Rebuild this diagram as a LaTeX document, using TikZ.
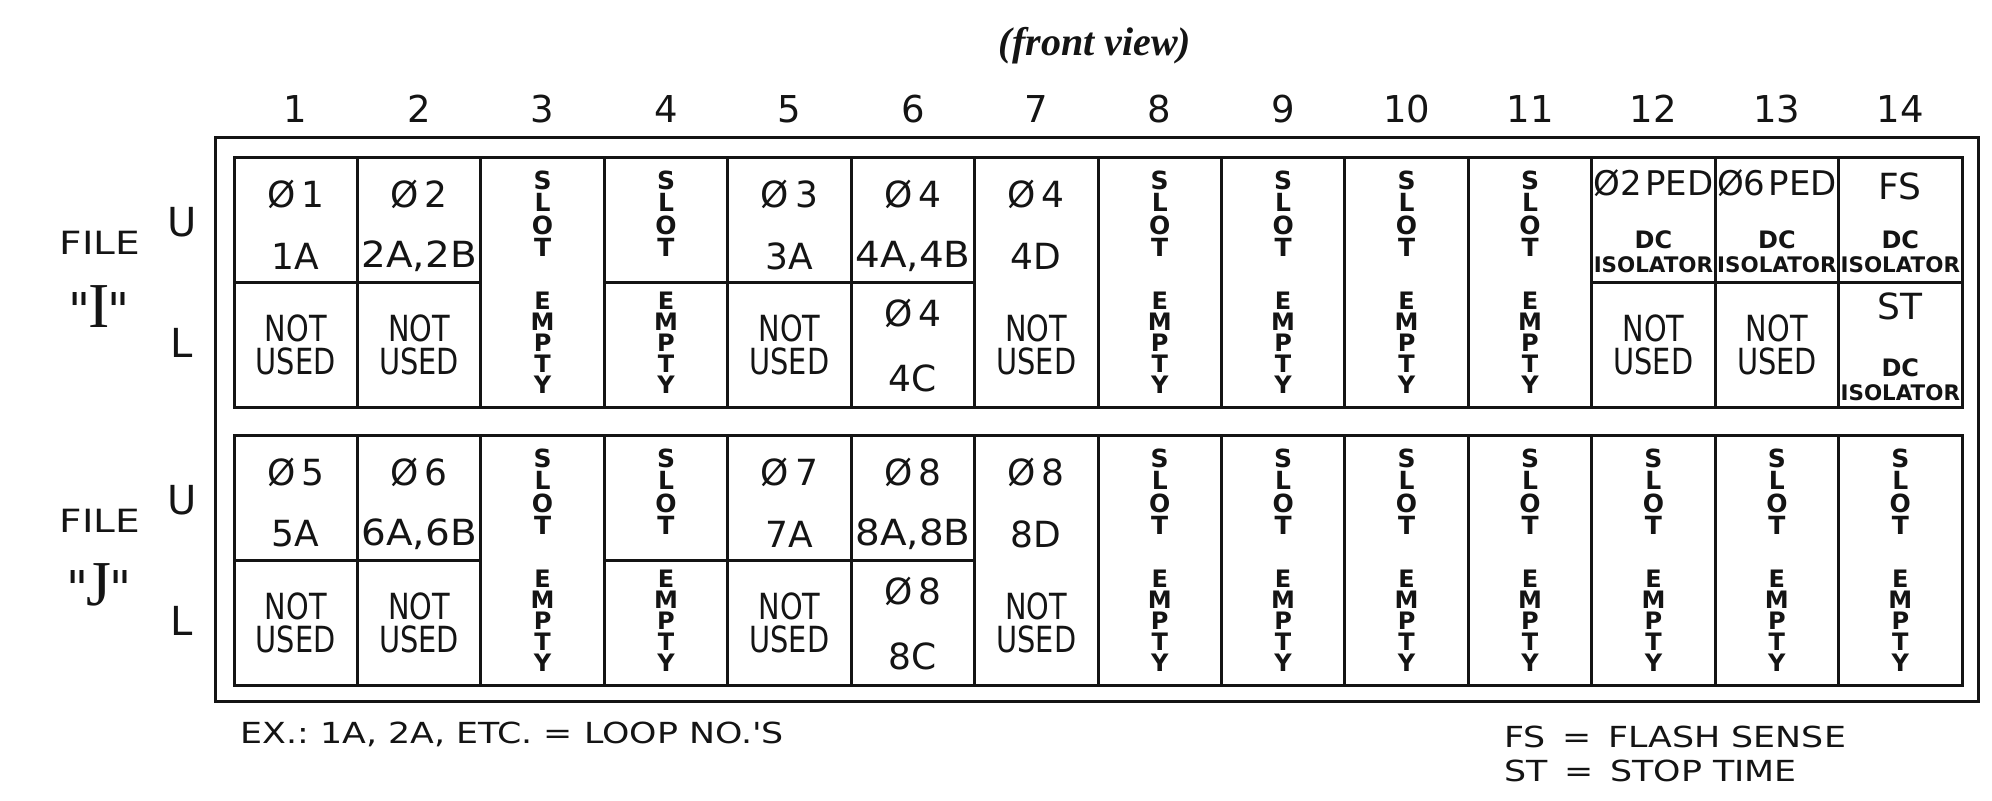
\documentclass[tikz,border=0pt]{standalone}
\usepackage{fontspec}
\setsansfont{DejaVu Sans}
\newfontfamily\narrowsans[FakeStretch=0.8]{DejaVu Sans}
\newfontfamily\widesans[FakeStretch=1.22]{DejaVu Sans}
\newfontfamily\loopsans[FakeStretch=1.08]{DejaVu Sans}
\newfontfamily\legendsans[FakeStretch=1.2]{DejaVu Sans}
\newfontfamily\titleserif{Liberation Serif}
\definecolor{ink}{HTML}{141414}

\begin{document}
\begin{tikzpicture}[x=.5pt,y=-.5pt,line width=1.5pt,color=ink,
  num/.style={font=\sffamily\fontsize{18.5}{18.5}\selectfont,inner sep=0pt},
  cell/.style={font=\sffamily\fontsize{18}{18}\selectfont,inner sep=0pt,align=center},
  wide/.style={font=\loopsans\fontsize{18}{18}\selectfont,inner sep=0pt},
  ped/.style={font=\sffamily\fontsize{17}{17}\selectfont,inner sep=0pt},
  unused/.style={font=\narrowsans\fontsize{18}{16.5}\selectfont,inner sep=0pt,align=center},
  iso/.style={font=\sffamily\bfseries\fontsize{10.7}{12}\selectfont,inner sep=0pt,align=center},
  slot/.style={font=\sffamily\bfseries\fontsize{12.5}{11.25}\selectfont,inner sep=0pt,align=center,anchor=north},
  slotlow/.style={slot,font=\sffamily\bfseries\fontsize{12}{10.5}\selectfont},
  side/.style={font=\sffamily\fontsize{20}{20}\selectfont,inner sep=0pt},
  legend/.style={font=\legendsans\fontsize{14.5}{17}\selectfont,inner sep=0pt,anchor=west}]

\fill[white] (0,0) rectangle (1992,800);
\useasboundingbox (0,0) rectangle (1992,800);

% title and slot numbers
\node[font=\titleserif\bfseries\itshape\fontsize{20}{20}\selectfont] (title) at (1095,46) {(front view)};
\foreach \c in {1,...,14}
  \node[num] (num\c) at ({234+(\c-.5)*123.43},109) {\c};

% housing and the two card files
\draw (215,137) rectangle (1978,701);
\draw (234,157) rectangle (1962,407);
\draw (234,435) rectangle (1962,685);
\foreach \c in {1,...,13}
  \draw ({234+\c*123.43},157) -- ++(0,250) ({234+\c*123.43},435) -- ++(0,250);
\draw (234,282) -- (480.9,282) (604.3,282) -- (974.6,282) (1591.7,282) -- (1962,282);
\draw (234,560) -- (480.9,560) (604.3,560) -- (974.6,560);

% file names, upper/lower
\foreach \fl/\yy in {I/157,J/435}{
  \node[font=\widesans\fontsize{16}{16}\selectfont,inner sep=0pt] (file\fl) at (100,{\yy+86}) {FILE};
  \node[inner sep=0pt] (name\fl) at (99,{\yy+150})
    {\sffamily\fontsize{24}{24}\selectfont\textquotedbl\kern-1pt\titleserif\fontsize{32}{32}\selectfont\fl\kern-1pt\sffamily\fontsize{24}{24}\selectfont\textquotedbl};
  \node[side] (up\fl) at (182,{\yy+65}) {U};
  \node[side] (low\fl) at (182,{\yy+186}) {L};
}

% file I
\foreach \c/\p/\l in {1/1/1A,5/3/3A,7/4/4D}{
  \node[cell] (phiI\c) at ({234+(\c-.5)*123.43},194) {Ø\hspace{3pt}\p};
  \node[cell] (loopI\c) at ({234+(\c-.5)*123.43},256) {\l};
}
\foreach \c/\p/\l in {2/2/{2A,2B},6/4/{4A,4B}}{
  \node[cell] (phiI\c) at ({234+(\c-.5)*123.43},194) {Ø\hspace{3pt}\p};
  \node[wide] (loopI\c) at ({234+(\c-.5)*123.43},256) {\l};
}
\node[cell] (phiI6l) at (912.9,313) {Ø\hspace{3pt}4};
\node[cell] (loopI6l) at (912.9,378) {4C};
\foreach \c in {1,2,5,7,12,13}
  \node[unused] (spareI\c) at ({234+(\c-.5)*123.43},344.5) {NOT\\USED};
\node[ped] (pedI12) at (1653.4,183) {Ø2\kern1.5ptPED};
\node[ped] (pedI13) at (1776.9,183) {Ø6\kern1.5ptPED};
\node[cell] (fsI14) at (1900.3,186) {FS};
\foreach \c in {12,13,14}
  \node[iso] (isoI\c) at ({234+(\c-.5)*123.43},252) {{\fontsize{12}{12}\selectfont DC}\\ISOLATOR};
\node[cell] (stI14) at (1900.3,306) {ST};
\node[iso] (isoI14l) at (1900.3,380) {{\fontsize{12}{12}\selectfont DC}\\ISOLATOR};
\foreach \c in {3,4,8,9,10,11}{
  \node[slot] (slotI\c) at ({234+(\c-.5)*123.43},169) {S\\L\\O\\T};
  \node[slotlow] (emptyI\c) at ({234+(\c-.5)*123.43},290) {E\\M\\P\\T\\Y};
}

% file J
\foreach \c/\p/\l in {1/5/5A,5/7/7A,7/8/8D}{
  \node[cell] (phiJ\c) at ({234+(\c-.5)*123.43},472) {Ø\hspace{3pt}\p};
  \node[cell] (loopJ\c) at ({234+(\c-.5)*123.43},534) {\l};
}
\foreach \c/\p/\l in {2/6/{6A,6B},6/8/{8A,8B}}{
  \node[cell] (phiJ\c) at ({234+(\c-.5)*123.43},472) {Ø\hspace{3pt}\p};
  \node[wide] (loopJ\c) at ({234+(\c-.5)*123.43},534) {\l};
}
\node[cell] (phiJ6l) at (912.9,591) {Ø\hspace{3pt}8};
\node[cell] (loopJ6l) at (912.9,656) {8C};
\foreach \c in {1,2,5,7}
  \node[unused] (spareJ\c) at ({234+(\c-.5)*123.43},622.5) {NOT\\USED};
\foreach \c in {3,4,8,9,10,11,12,13,14}{
  \node[slot] (slotJ\c) at ({234+(\c-.5)*123.43},447) {S\\L\\O\\T};
  \node[slotlow] (emptyJ\c) at ({234+(\c-.5)*123.43},568) {E\\M\\P\\T\\Y};
}

% notes
\node[legend] (example) at (239,734) {EX.:\ 1A, 2A, ETC. = LOOP NO.'S};
\node[legend] (fs) at (1503,737) {FS\hspace{2.8pt} = \hspace{2.8pt}FLASH SENSE};
\node[legend] (st) at (1503,771) {ST\hspace{2.8pt} = \hspace{2.8pt}STOP TIME};

\end{tikzpicture}
\end{document}
